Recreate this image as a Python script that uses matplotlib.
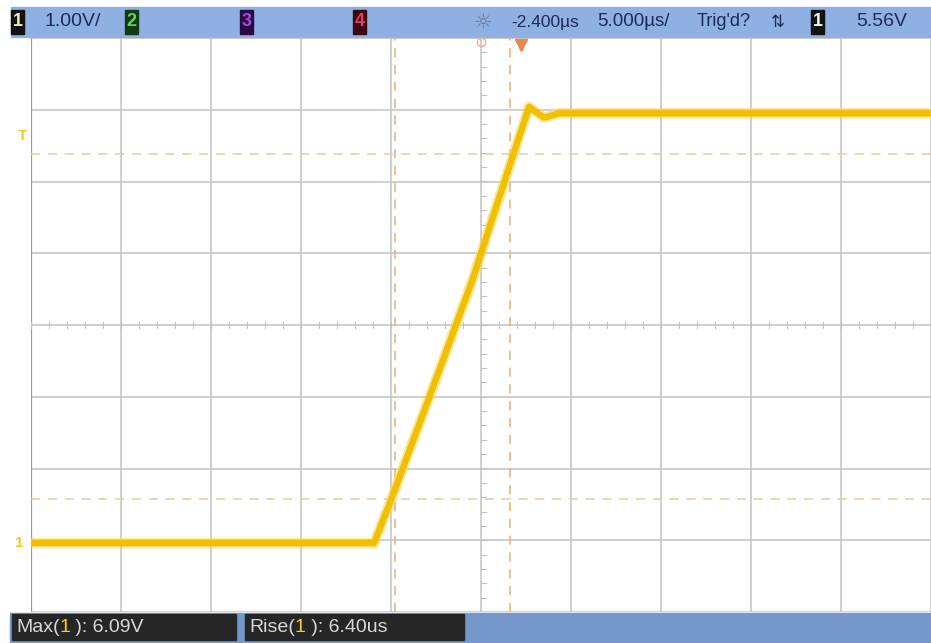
import numpy as np
import matplotlib.pyplot as plt
from matplotlib.patches import Rectangle

# scope settings
volts_per_div = 1.00
us_per_div = 5.0
ground_div = -3.04          # channel 1 ground position, divisions from centre

# channel 1 trace (time in us, level in V)
t_us = [-25.0, -5.94, -4.94, -2.33, -0.50, 1.67, 2.67, 3.50, 4.33, 25.0]
v_ch1 = [0.0, 0.0, 0.64, 2.40, 3.65, 5.32, 6.08, 5.93, 5.99, 5.99]

# measurement cursors
cursor_t = [-4.80, 1.60]
cursor_v = [0.62, 5.42]

header_items = ['1.00V/', '-2.400µs', '5.000µs/', "Trig'd?", '5.56V']
meas_names = ['Max', 'Rise']
meas_values = ['6.09V', '6.40us']

plt.rcParams['font.family'] = ['Liberation Sans Narrow', 'Liberation Sans', 'DejaVu Sans']

W, H = 931, 643
fig = plt.figure(figsize=(W / 100, H / 100), dpi=100)
fig.patch.set_facecolor('white')

ax = fig.add_axes([31 / W, (H - 612) / H, 900 / W, 574 / H])
ax.set_xlim(-5, 5)
ax.set_ylim(-4, 4)
ax.set_axis_off()

# graticule
grid_c = '#c2c2c2'
for gx in np.arange(-5, 5.01, 1):
    ax.axvline(gx, color=grid_c, lw=1.1, zorder=1)
for gy in np.arange(-4, 4.01, 1):
    ax.axhline(gy, color=grid_c, lw=1.1, zorder=1)
ax.axvline(-5, color='#9a9a9a', lw=1.6, zorder=1)
for tx in np.arange(-5, 5.01, 0.2):
    ax.plot([tx, tx], [-0.04, 0.04], color='#c0c0c0', lw=0.8, zorder=1)
for ty in np.arange(-4, 4.01, 0.2):
    ax.plot([0, 0.05], [ty, ty], color='#c0c0c0', lw=0.8, zorder=1)

# cursors
for cv in cursor_v:
    ax.axhline(cv / volts_per_div + ground_div, color='#e6cba0', lw=1.1,
               ls=(0, (6, 5)), zorder=2)
for ct in cursor_t:
    ax.axvline(ct / us_per_div, color='#e2b27a', lw=1.1, ls=(0, (6, 5)), zorder=2)

# trace
xs = np.array(t_us) / us_per_div
ys = np.array(v_ch1) / volts_per_div + ground_div
ax.plot(xs, ys, color='#f8d860', lw=7.5, alpha=0.6, solid_joinstyle='round', zorder=3)
ax.plot(xs, ys, color='#f0c000', lw=4.6, solid_joinstyle='round', zorder=4)

# reference markers along the top edge
ax.plot([0], [3.95], marker='o', ms=6, mfc='none', mec='#e0b890', mew=1, clip_on=False, zorder=5)
ax.plot([2.2 / us_per_div], [3.9], marker='v', ms=9, color='#e8884a',
        clip_on=False, zorder=5)

# left side markers
fig.text(23 / W, 1 - 136 / H, 'T', color='#f0c830', fontsize=11, fontweight='bold',
         ha='center', va='center')
fig.text(19 / W, 1 - 543 / H, '1', color='#f0c830', fontsize=11, fontweight='bold',
         ha='center', va='center')

# header bar
hy0, hy1 = 7, 37
fig.patches.append(Rectangle((11 / W, 1 - hy1 / H), (W - 11) / W, (hy1 - hy0) / H,
                             transform=fig.transFigure, color='#8fb0e2', zorder=-2))
ymid = 1 - (hy0 + hy1) / 2 / H


def chan_box(x0, label, face, fg):
    fig.patches.append(Rectangle((x0 / W, 1 - 34 / H), 13 / W, 24 / H,
                                 transform=fig.transFigure, color=face, zorder=-1))
    fig.text((x0 + 6.5) / W, ymid, label, color=fg, fontsize=13,
             ha='center', va='center', fontweight='bold')


chan_box(11, '1', '#111111', '#f4ecc0')
chan_box(125, '2', '#123a12', '#6ed060')
chan_box(240, '3', '#2a0a40', '#a050e0')
chan_box(353, '4', '#3a0810', '#e04060')
chan_box(811, '1', '#111111', '#f4f4f4')

txt_c = '#1c2c5a'
head_x = [45, 511, 597, 697, 856]
head_size = [14, 12.5, 13.5, 13, 14]
for hx, s, fs in zip(head_x, header_items, head_size):
    fig.text(hx / W, ymid, s, color=txt_c, fontsize=fs, ha='left', va='center')
fig.text(483 / W, ymid, '☼', color='#6a7a9a', fontsize=15, ha='center', va='center',
         family=['DejaVu Sans'])
fig.text(778 / W, ymid, '⇅', color=txt_c, fontsize=12, ha='center', va='center',
         family=['DejaVu Sans'])

# measurement bar
by0, by1 = 613, 642
fig.patches.append(Rectangle((10 / W, 1 - by1 / H), (W - 10) / W, (by1 - by0) / H,
                             transform=fig.transFigure, color='#7498cb', zorder=-2))
box_x = [(12, 236), (245, 464)]
bmid = 1 - (by0 + by1) / 2 / H
for (x0, x1), name, val in zip(box_x, meas_names, meas_values):
    fig.patches.append(Rectangle((x0 / W, 1 - (by1 - 2) / H), (x1 - x0) / W, (by1 - by0 - 3) / H,
                                 transform=fig.transFigure, color='#262626', zorder=-1))
    t1 = fig.text((x0 + 4) / W, bmid, name + '(', color='#d8d8d8', fontsize=14,
                  ha='left', va='center')
    t2 = ax.annotate('1', xycoords=t1, xy=(1, 0.5), va='center', ha='left',
                     color='#f0d020', fontsize=14, annotation_clip=False, zorder=6)
    ax.annotate(' ): ' + val, xycoords=t2, xy=(1, 0.5), va='center', ha='left',
                color='#d8d8d8', fontsize=14, annotation_clip=False, zorder=6)

fig.savefig('out.png', dpi=100)
